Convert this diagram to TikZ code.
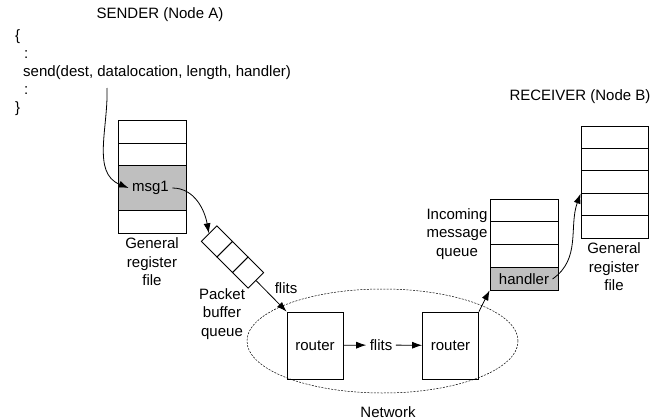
\documentclass[tikz,border=0pt]{standalone}
\usepackage{fontspec}
\setmainfont{Liberation Sans}
\usetikzlibrary{arrows.meta,shapes.geometric}
\newcommand{\HeadTip}{Latex[length=10,width=7]}
\tikzset{cell/.style={draw,minimum width=68,minimum height=23,inner sep=0,line width=.8}}
\tikzset{filledcell/.style={cell,fill=black!25}}
\tikzset{bufcell/.style={draw,minimum size=22,inner sep=0,rotate=-45,line width=.8}}
\tikzset{router/.style={draw,minimum width=56,minimum height=67,line width=.8}}
\tikzset{arr/.style={-{\HeadTip},line width=.8}}
\begin{document}
\begin{tikzpicture}[x=1pt,y=-1pt,font=\fontsize{15}{18.5}\selectfont]
\useasboundingbox(0,0)rectangle(661,420);
% sender side
\node(snd)at(160,15){SENDER (Node A)};
\begin{scope}[every node/.style={anchor=west,inner sep=0}]
\node(ob)at(15,37){\{};\node(c1)at(24,55){:};\node(call)at(23,73){send(dest, datalocation, length, handler)};\node(c2)at(24,91){:};\node(cb)at(15,109){\}};
\end{scope}
\coordinate(src)at(107,88);
\node[cell](ra1)at(152,131.5){};\node[cell,minimum height=22](ra2)at(152,154){};\node[filledcell,minimum height=45](ra3)at(152,187.5){};\node[cell](ra4)at(152,221.5){};
\node(m1)at(150.5,188){msg1};
\node[align=center](ga)at(152,262){General\\register\\file};
\foreach \i/\x/\y in {1/216.9/241.4,2/232.5/257,3/248.1/272.6}\node[bufcell](pb\i)at(\x,\y){};
\node[align=center](pq)at(222,314){Packet\\buffer\\queue};
% network
\node[ellipse,draw,dash pattern=on 2pt off 1.3pt,line width=.5,minimum width=271,minimum height=104](net)at(382.5,341){};
\node(nl)at(388,412){Network};
\node[router](r1)at(315,345.5){router};\node[router](r2)at(450.5,345.5){router};
\node(fl)at(381,345){flits};\node(fl0)at(286,288){flits};
% receiver side
\node(rcv)at(580,97){RECEIVER (Node B)};
\foreach \i in {1,...,3}\node[cell,minimum height=22.75](qb\i)at(524,{199+22.75*(\i-.5)}){};
\node[filledcell,minimum height=22.75](qb4)at(524,278.6){};
\node(hd)at(524,279){handler};
\node[align=center](iq)at(457,234){Incoming\\message\\queue};
\foreach \i in {1,...,5}\node[cell,minimum width=67,minimum height=22.4](rb\i)at(614.5,{126+22.4*(\i-.5)}){};
\node[align=center](gb)at(614,267){General\\register\\file};
% arrows
\draw[arr](src)to[out=-88,in=158](m1.west);
\draw[arr](m1.east)to[out=0,in=100](pb1.west);
\draw[arr](pb3.east)--(r1.north west);
\draw[arr](r1)--(fl);\draw[arr](fl)--(r2);
\draw[arr](r2.north east)--(qb4.south west);
\draw[arr](hd.east)to[out=35,in=-110](rb3.south west);
\end{tikzpicture}
\end{document}
